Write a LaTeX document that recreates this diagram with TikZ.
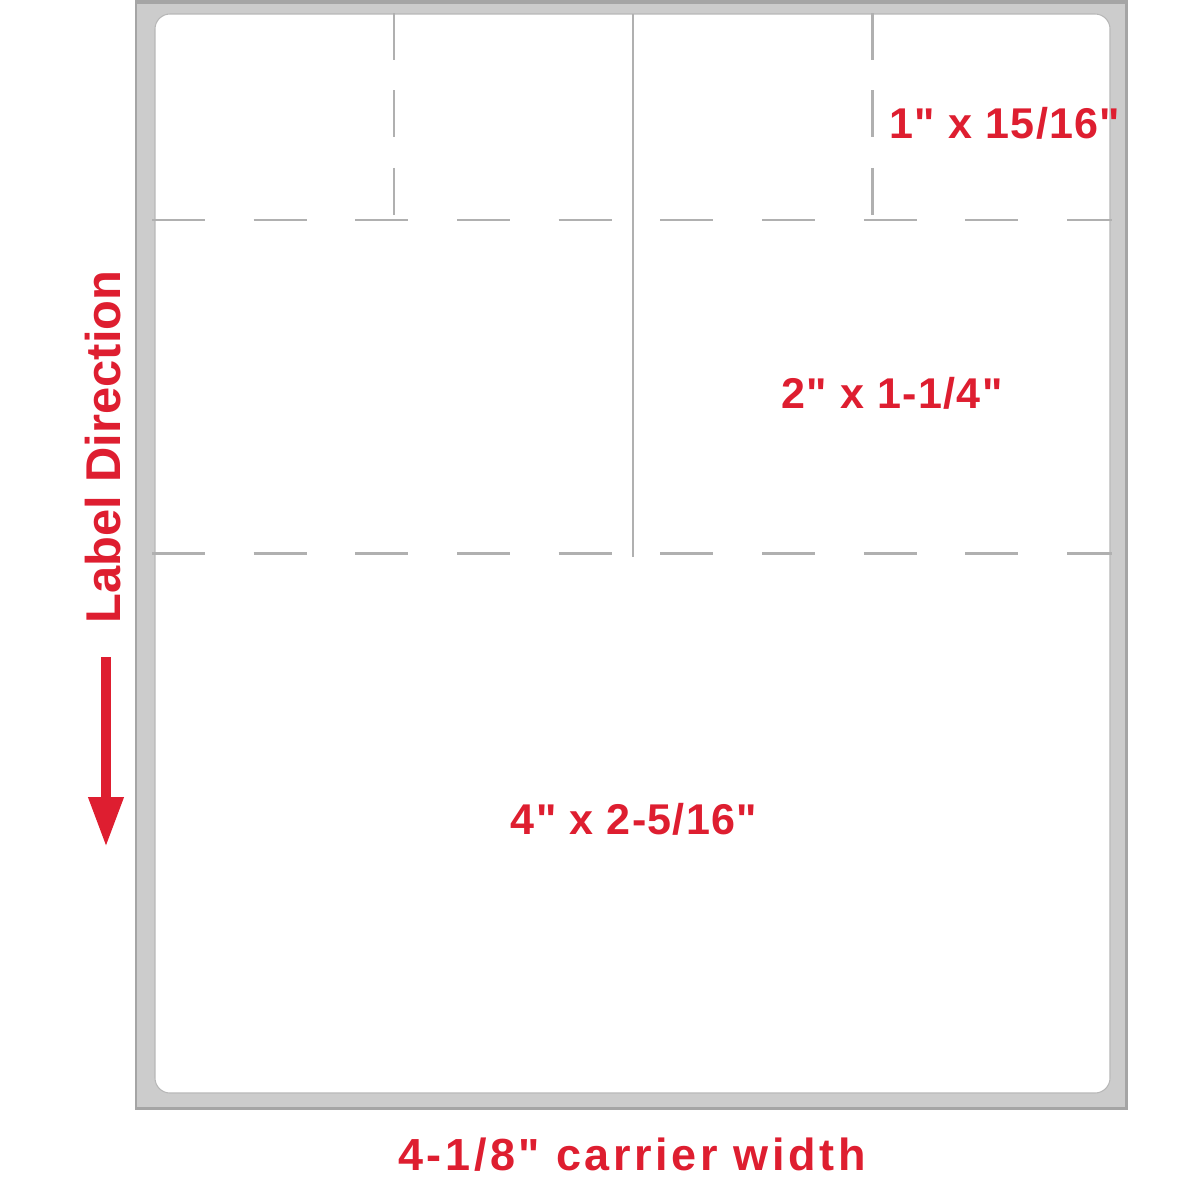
\documentclass[tikz,border=0pt]{standalone}
\usepackage{fontspec}
\newfontfamily\labfont{Liberation Sans}
\usetikzlibrary{arrows.meta}
\definecolor{labelred}{RGB}{222,30,48}
\definecolor{carrier}{RGB}{204,204,204}
\definecolor{edge}{RGB}{165,165,165}
\definecolor{cutline}{RGB}{176,176,176}
\tikzset{
	sizetext/.style={text=labelred, anchor=base, inner sep=0pt,
		font=\labfont\fontsize{24.5}{28}\selectfont\bfseries\addfontfeature{LetterSpace=3}},
	hcut/.style={draw=cutline, line width=1.7pt, dash pattern=on 1.06cm off 0.974cm},
	vcut/.style={draw=cutline, line width=1.7pt, dash pattern=on 0.94cm off 0.61cm},
}

\begin{document}
\begin{tikzpicture}[x=0.02cm, y=-0.02cm]
		\useasboundingbox (0,0) rectangle (1200,1200);
		\clip (0,0) rectangle (1200,1200);
		%%%%% START %%%%%
		
		% carrier and label sheet
		\draw[fill=carrier, draw=edge, line width=1.7pt] (136,-20) rectangle (1126,1108);
		\draw[draw=edge, line width=2.3pt] (136,2) -- (1126,2);
		\draw[fill=white, draw=edge!80, line width=0.6pt, rounded corners=0.3cm] (155,14) rectangle (1110,1093);
		
		% cuts
		\draw[hcut] (152,220) -- (1112,220);
		\draw[hcut] (152,553) -- (1112,553);
		\draw[vcut] (394,13) -- (394,220);
		\draw[vcut] (872,13) -- (872,220);
		\draw[draw=cutline, line width=1.3pt] (633,14) -- (633,557);
		
		% sizes
		\node[sizetext] (small) at (1005,138) {1" x 15/16"};
		\node[sizetext] (half) at (892,408) {2" x 1-1/4"};
		\node[sizetext] (full) at (634,834) {4" x 2-5/16"};
		\node[sizetext, font=\labfont\fontsize{25.6}{30}\selectfont\bfseries\addfontfeature{LetterSpace=8}] (width) at (632,1170) {4-1/8" carrier width};
		
		% direction
		\node[sizetext, font=\labfont\fontsize{27.8}{32}\selectfont\bfseries, rotate=90] (dir) at (120,447) {Label Direction};
		\coordinate (tail) at (106,657);
		\coordinate (tip) at (106,847);
		\draw[labelred, line width=5.7pt, -{Triangle[width=0.66cm, length=1cm]}] (tail) -- (tip);
		
		%%%%% END %%%%%
	\end{tikzpicture}
\end{document}
